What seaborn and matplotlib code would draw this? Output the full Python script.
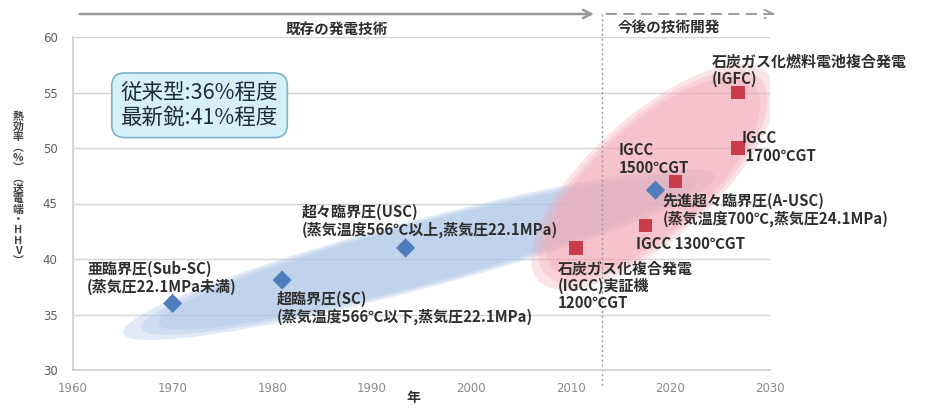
import numpy as np
import pandas as pd
import matplotlib
matplotlib.use("Agg")
import matplotlib.pyplot as plt
from matplotlib.patches import FancyArrowPatch
import seaborn as sns

# ---------------- data ----------------
existing_years = [1970, 1981, 1993.4, 2018.5]
existing_eff = [36.0, 38.1, 41.0, 46.2]
existing_names = ["亜臨界圧(Sub-SC)\n(蒸気圧22.1MPa未満)",
                  "超臨界圧(SC)\n(蒸気温度566℃以下,蒸気圧22.1MPa)",
                  "超々臨界圧(USC)\n(蒸気温度566℃以上,蒸気圧22.1MPa)",
                  "先進超々臨界圧(A-USC)\n(蒸気温度700℃,蒸気圧24.1MPa)"]

future_years = [2010.5, 2017.5, 2020.5, 2026.8, 2026.8]
future_eff = [41.0, 43.0, 47.0, 50.0, 55.0]
future_names = ["石炭ガス化複合発電\n(IGCC)実証機\n1200℃GT",
                "IGCC 1300℃GT",
                "IGCC\n1500℃GT",
                "IGCC\n 1700℃GT",
                "石炭ガス化燃料電池複合発電\n(IGFC)"]

x_ticks = [1960, 1970, 1980, 1990, 2000, 2010, 2020, 2030]
y_ticks = [30, 35, 40, 45, 50, 55, 60]
section_labels = ["既存の発電技術", "今後の技術開発"]
box_text = "従来型:36%程度\n最新鋭:41%程度"
x_label = "年"
y_label = "熱効率︵%︶︵送電端・HHV︶"

# ---------------- style ----------------
sns.set_theme(style="white")
plt.rcParams['font.family'] = ['Noto Sans CJK JP', 'DejaVu Sans']

df = pd.DataFrame({
    "年": existing_years + future_years,
    "熱効率": existing_eff + future_eff,
    "区分": ["既存"] * len(existing_years) + ["今後"] * len(future_years),
})

fig = plt.figure(figsize=(9.37, 4.09), dpi=100)
ax = fig.add_axes([73 / 937, 39 / 409, 697 / 937, 333 / 409])
ax.set_xlim(1960, 2030)
ax.set_ylim(30, 60)


def band(p1, p2, t, n=240):
    s = np.linspace(-1, 1, n)
    cx = (p1[0] + p2[0]) / 2 + s * (p2[0] - p1[0]) / 2
    cy = (p1[1] + p2[1]) / 2 + s * (p2[1] - p1[1]) / 2
    h = t * np.sqrt(np.clip(1 - s ** 2, 0, 1))
    xs = np.concatenate([cx, cx[::-1]])
    ys = np.concatenate([cy + h, (cy - h)[::-1]])
    return xs, ys


def soft_band(p1, p2, t, color, alphas):
    mx, my = (p1[0] + p2[0]) / 2, (p1[1] + p2[1]) / 2
    for k, a in enumerate(alphas):
        f = 1.0 - 0.06 * k
        q1 = (mx + (p1[0] - mx) * f, my + (p1[1] - my) * f)
        q2 = (mx + (p2[0] - mx) * f, my + (p2[1] - my) * f)
        xs, ys = band(q1, q2, t * f)
        ax.fill(xs, ys, color=color, alpha=a, lw=0, zorder=1)


soft_band((1965.0, 33.4), (2024.5, 47.4), 3.2, "#a9c4e6", [0.35, 0.35, 0.35])
soft_band((2006.0, 40.0), (2030.5, 54.8), 7.0, "#f4a7b3", [0.3, 0.3, 0.35])

# grid
for yv in y_ticks[1:]:
    ax.axhline(yv, color="#d4d4d4", lw=1.0, zorder=0.5)
for sp in ["top", "right"]:
    ax.spines[sp].set_visible(False)
ax.spines["left"].set_color("#cfcfcf")
ax.spines["bottom"].set_color("#cfcfcf")

sns.scatterplot(data=df, x="年", y="熱効率", hue="区分", style="区分",
                markers={"既存": "D", "今後": "s"},
                palette={"既存": "#4f7dbb", "今後": "#c83c4c"},
                s=95, edgecolor="none", legend=False, zorder=5, ax=ax)

ax.set_xticks(x_ticks)
ax.set_yticks(y_ticks)
ax.set_xticklabels([str(v) for v in x_ticks], color="#8a8a8a", fontsize=8.5,
                   family="DejaVu Sans")
ax.set_yticklabels([str(v) for v in y_ticks], color="#5e5e5e", fontsize=8.5,
                   family="DejaVu Sans")
ax.tick_params(axis="x", length=0, pad=9)
ax.tick_params(axis="y", length=0, pad=11)
ax.set_xlabel("")
ax.set_ylabel("")
fig.text(413 / 937, 1 - 398 / 409, x_label, ha="center", va="center",
         fontsize=10, fontweight="bold", color="#333333")

# vertical y label (stacked glyphs, one text object)
fig.text(18 / 937, 1 - 189 / 409, "\n".join(list(y_label)), ha="center", va="center",
         fontsize=7.8, linespacing=1.04, color="#444444", fontweight="bold")

# text labels
tc = "#2e2e2e"
fs = 10.8
label_pos = [(1961.4, 39.8), (1980.5, 37.1), (1983.0, 45.0), (2019.2, 46.0)]
for (lx, ly), txt in zip(label_pos, existing_names):
    ax.text(lx, ly, txt, ha="left", va="top", fontsize=fs, fontweight="bold",
            color=tc, linespacing=1.12, zorder=6)
fut_pos = [(2008.7, 39.9), (2016.5, 42.1), (2014.8, 50.5), (2027.2, 51.6), (2024.2, 58.5)]
for (lx, ly), txt in zip(fut_pos, future_names):
    ax.text(lx, ly, txt, ha="left", va="top", fontsize=fs, fontweight="bold",
            color=tc, linespacing=1.12, zorder=6)

# info box
ax.text(1964.8, 53.85, box_text, ha="left", va="center", fontsize=15.5, color="#1d2a3a",
        linespacing=1.15, zorder=7,
        bbox=dict(boxstyle="round,pad=0.42,rounding_size=0.6", fc="#d6f0fa",
                  ec="#7db3c7", lw=1.2))

# top arrows and section divider
ytop = (370 - 14) / 333
arr1 = FancyArrowPatch((1960.4, ytop), (2012.6, ytop), transform=ax.get_xaxis_transform(),
                       arrowstyle="->,head_length=6,head_width=3", color="#9a9a9a", lw=1.8,
                       clip_on=False)
arr2 = FancyArrowPatch((2013.3, ytop), (2030.8, ytop), transform=ax.get_xaxis_transform(),
                       arrowstyle="->,head_length=6,head_width=3", color="#9a9a9a", lw=1.4,
                       linestyle=(0, (5, 4)), clip_on=False)
ax.add_patch(arr1)
ax.add_patch(arr2)
ax.plot([2013.1, 2013.1], [ytop, -0.045], transform=ax.get_xaxis_transform(),
        color="#9a9a9a", lw=1.0, ls=(0, (1.5, 2)), clip_on=False, zorder=2)

ax.text(1986.5, (370 - 29) / 333, section_labels[0], transform=ax.get_xaxis_transform(),
        ha="center", va="center", fontsize=10.5, fontweight="bold", color=tc)
ax.text(2019.8, (370 - 28) / 333, section_labels[1], transform=ax.get_xaxis_transform(),
        ha="center", va="center", fontsize=10.5, fontweight="bold", color=tc)

fig.savefig("out.png", dpi=100)
